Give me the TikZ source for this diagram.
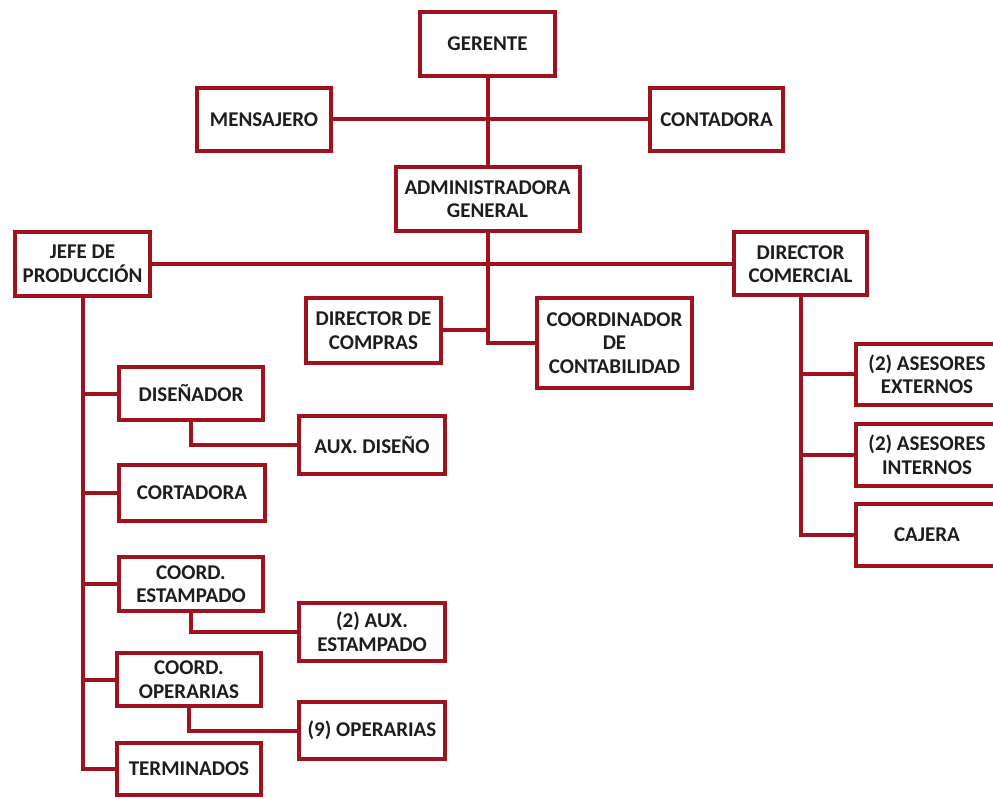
\documentclass[tikz,border=0pt]{standalone}
\usepackage{fontspec}
\setmainfont{Carlito}
\definecolor{orgred}{RGB}{160,18,30}
\definecolor{orgtext}{RGB}{30,28,28}

\begin{document}
\begin{tikzpicture}[x=1pt, y=-1pt,
    box/.style={draw=orgred, line width=4pt, fill=white, align=center, text=orgtext, inner sep=1pt, font=\bfseries\fontsize{21}{23.5}\selectfont},
    link/.style={draw=orgred, line width=4pt}
]
    \useasboundingbox (0,0) rectangle (993,799);

    % Top level
    \node[box, minimum width=135pt, minimum height=64pt] (gerente) at (487.5,44) {GERENTE};
    \node[box, minimum width=134pt, minimum height=63pt] (mensajero) at (264,119.5) {MENSAJERO};
    \node[box, minimum width=133pt, minimum height=63pt] (contadora) at (716.5,119.5) {CONTADORA};
    \node[box, minimum width=184pt, minimum height=64pt] (admin) at (487.5,199) {ADMINISTRADORA\\GENERAL};

    % Second level
    \node[box, minimum width=135pt, minimum height=64pt] (jefe) at (82.5,264) {JEFE DE\\PRODUCCIÓN};
    \node[box, minimum width=133pt, minimum height=63pt] (dircomercial) at (800.5,264) {DIRECTOR\\COMERCIAL};
    \node[box, minimum width=135pt, minimum height=65pt] (dircompras) at (373.5,330.5) {DIRECTOR DE\\COMPRAS};
    \node[box, minimum width=155pt, minimum height=89pt] (coordcont) at (614.5,343) {COORDINADOR\\DE\\CONTABILIDAD};

    % Production
    \node[box, minimum width=144pt, minimum height=53pt] (disenador) at (191,393.5) {DISEÑADOR};
    \node[box, minimum width=146pt, minimum height=58pt] (auxdiseno) at (372,445) {AUX. DISEÑO};
    \node[box, minimum width=146pt, minimum height=56pt] (cortadora) at (192,493) {CORTADORA};
    \node[box, minimum width=144pt, minimum height=54pt] (coordest) at (191,584) {COORD.\\ESTAMPADO};
    \node[box, minimum width=146pt, minimum height=58pt] (auxest) at (372,632) {(2) AUX.\\ESTAMPADO};
    \node[box, minimum width=144pt, minimum height=53pt] (coordop) at (189,679.5) {COORD.\\OPERARIAS};
    \node[box, minimum width=146pt, minimum height=57pt] (operarias) at (372,730.5) {(9) OPERARIAS};
    \node[box, minimum width=144pt, minimum height=52pt] (terminados) at (189,769) {TERMINADOS};

    % Sales
    \node[box, minimum width=142pt, minimum height=61pt] (asext) at (927,374.5) {(2) ASESORES\\EXTERNOS};
    \node[box, minimum width=142pt, minimum height=62pt] (asint) at (927,455) {(2) ASESORES\\INTERNOS};
    \node[box, minimum width=142pt, minimum height=62pt] (cajera) at (927,535) {CAJERA};

    % Connectors
    \draw[link] (gerente.south) -- (admin.north);
    \draw[link] (mensajero.east) -- (contadora.west);
    \draw[link] (admin.south) |- (coordcont.west);
    \draw[link] (jefe.east) -- (jefe.east -| dircomercial.west);
    \draw[link] (dircompras.east) -- (dircompras.east -| admin.south);

    \draw[link] (jefe.south) |- (terminados.west);
    \draw[link] (jefe.south |- disenador.west) -- (disenador.west);
    \draw[link] (jefe.south |- cortadora.west) -- (cortadora.west);
    \draw[link] (jefe.south |- coordest.west) -- (coordest.west);
    \draw[link] (jefe.south |- coordop.west) -- (coordop.west);
    \draw[link] (disenador.south) |- (auxdiseno.west);
    \draw[link] (coordest.south) |- (auxest.west);
    \draw[link] (coordop.south) |- (operarias.west);

    \draw[link] (dircomercial.south) |- (cajera.west);
    \draw[link] (dircomercial.south |- asext.west) -- (asext.west);
    \draw[link] (dircomercial.south |- asint.west) -- (asint.west);
\end{tikzpicture}
\end{document}
